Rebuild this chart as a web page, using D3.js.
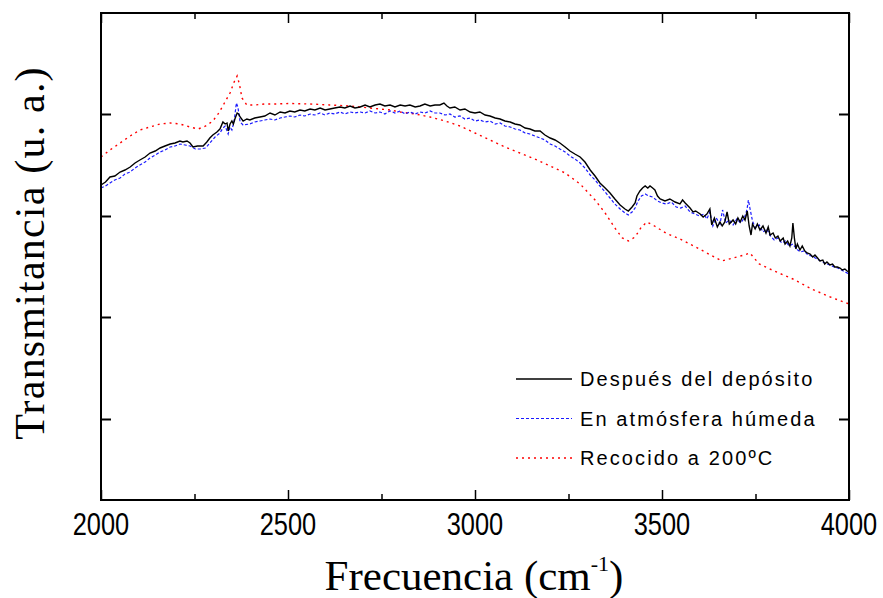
<!DOCTYPE html>
<html>
<head>
<meta charset="utf-8">
<script src="https://cdn.jsdelivr.net/npm/d3@7"></script>
<style>
body { margin: 0; background: #fff; }
svg { display: block; }
</style>
</head>
<body>
<svg width="883" height="598"></svg>
<script>
// Frecuencia (cm-1) / transmitancia (u. a.)
var despuesX = [2000,2012,2024,2037,2051,2064,2078,2091,2104,2118,2131,2145,2158,2171,2185,2198,2211,2219,2230,2238,2246,2258,2273,2283,2291,2299,2310,2318,2326,2332,2337,2340,2345,2350,2354,2358,2364,2368,2372,2380,2390,2398,2411,2425,2438,2452,2465,2479,2492,2505,2518,2532,2545,2559,2572,2586,2599,2612,2625,2639,2652,2666,2679,2693,2706,2719,2733,2746,2759,2773,2786,2800,2813,2826,2840,2853,2866,2880,2893,2906,2917,2925,2933,2946,2960,2973,2987,3000,3013,3027,3040,3054,3067,3080,3094,3107,3120,3134,3147,3160,3174,3187,3201,3214,3227,3241,3254,3267,3281,3294,3308,3321,3334,3348,3361,3374,3388,3401,3410,3420,3428,3433,3441,3448,3455,3462,3468,3475,3481,3488,3495,3508,3521,3535,3548,3555,3562,3575,3583,3590,3602,3610,3620,3628,3633,3640,3648,3655,3661,3668,3674,3680,3690,3697,3703,3709,3716,3722,3728,3733,3738,3742,3749,3755,3762,3770,3778,3784,3789,3797,3803,3810,3816,3824,3829,3836,3842,3847,3850,3854,3858,3862,3869,3875,3882,3888,3896,3903,3909,3916,3922,3930,3935,3941,3949,3956,3962,3969,3976,3982,3989,3995,4000];
var despuesY = [31.5,31.8,32.3,32.4,32.8,33.0,33.3,33.7,34.0,34.3,34.7,34.9,35.2,35.4,35.6,35.7,35.9,35.8,35.9,35.7,35.3,35.4,35.4,35.8,36.2,36.5,36.8,37.1,37.8,37.6,37.7,36.9,37.6,37.9,37.6,38.1,38.7,38.6,38.3,37.9,38.1,38.0,38.2,38.3,38.4,38.7,38.5,38.8,38.7,38.9,38.8,39.0,38.9,39.1,39.0,39.2,39.0,39.1,39.2,39.3,39.2,39.4,39.2,39.3,39.5,39.3,39.5,39.6,39.4,39.5,39.3,39.5,39.4,39.5,39.3,39.4,39.6,39.4,39.5,39.5,39.7,39.4,39.2,39.3,39.0,39.1,38.8,38.7,38.8,38.5,38.4,38.2,38.1,37.9,37.8,37.6,37.5,37.2,37.1,36.9,36.9,36.5,36.2,36.0,35.7,35.3,34.9,34.6,34.3,33.8,33.0,32.4,31.7,31.2,30.7,30.1,29.5,29.1,28.9,29.3,29.7,30.4,30.9,31.2,31.4,31.2,31.4,31.2,31.0,30.4,30.1,29.9,30.1,29.8,29.6,30.0,29.7,29.2,28.8,28.9,28.6,28.3,28.6,29.1,27.5,28.2,27.3,27.8,27.4,27.8,28.8,27.6,28.0,27.6,28.2,27.8,28.4,28.0,28.9,27.4,26.5,27.6,27.1,27.6,27.0,27.4,26.7,27.3,26.5,26.7,26.2,26.4,25.9,26.2,25.6,25.9,25.4,26.2,27.7,26.2,25.1,25.6,25.0,25.4,24.9,24.7,24.6,24.3,24.5,24.2,23.9,24.0,23.6,23.8,23.5,23.6,23.3,23.3,23.2,23.0,23.1,22.9,22.8];

var humedaX = [2000,2012,2024,2037,2051,2064,2078,2091,2104,2118,2131,2145,2158,2171,2185,2198,2211,2225,2238,2252,2265,2280,2291,2305,2318,2326,2332,2340,2345,2350,2356,2362,2366,2372,2380,2398,2411,2425,2438,2452,2465,2479,2492,2505,2518,2532,2545,2559,2572,2586,2599,2612,2625,2639,2652,2666,2679,2693,2706,2719,2733,2746,2759,2773,2786,2800,2813,2826,2840,2853,2866,2880,2893,2906,2920,2933,2946,2960,2973,2987,3000,3013,3027,3040,3054,3067,3080,3094,3107,3120,3134,3147,3160,3174,3187,3201,3214,3227,3241,3254,3267,3281,3294,3308,3321,3334,3348,3361,3374,3388,3401,3410,3420,3428,3436,3445,3455,3465,3475,3488,3500,3512,3525,3538,3550,3562,3575,3588,3600,3612,3620,3628,3636,3645,3655,3662,3670,3680,3690,3700,3710,3720,3727,3731,3735,3742,3750,3760,3770,3780,3790,3800,3810,3820,3830,3840,3850,3860,3870,3880,3890,3900,3910,3920,3930,3940,3950,3960,3970,3980,3990,4000];
var humedaY = [31.2,31.4,31.7,32.0,32.2,32.6,32.8,33.2,33.5,33.8,34.2,34.5,34.8,35.0,35.3,35.4,35.6,35.5,35.4,35.1,35.1,35.2,35.7,36.3,36.7,37.2,37.4,36.6,37.3,37.0,37.9,39.7,39.3,37.8,37.5,37.6,37.8,37.9,38.0,38.1,38.0,38.2,38.3,38.4,38.3,38.5,38.4,38.6,38.5,38.7,38.5,38.7,38.6,38.8,38.6,38.8,38.7,38.8,38.7,38.9,38.7,38.8,38.6,38.9,38.7,38.9,38.6,38.8,38.6,38.8,38.7,38.9,38.7,38.7,38.5,38.6,38.3,38.4,38.1,38.2,37.9,38.0,37.8,37.9,37.6,37.7,37.4,37.3,37.1,37.0,36.7,36.6,36.4,36.2,36.0,35.6,35.4,35.1,34.8,34.4,34.1,33.7,33.2,32.5,32.0,31.4,30.8,30.2,29.6,29.1,28.7,28.5,28.8,29.2,29.9,30.4,30.6,30.4,30.3,29.9,29.7,29.6,29.8,29.3,29.2,29.4,28.8,28.6,28.4,28.6,28.1,28.8,27.4,28.2,27.6,29.0,27.7,28.0,27.5,28.1,27.7,28.2,29.0,30.0,29.2,27.9,27.2,27.5,26.8,27.1,26.4,26.0,26.2,25.7,25.9,25.4,25.6,25.1,24.8,24.9,24.5,24.4,24.2,24.0,23.8,23.6,23.5,23.3,23.2,23.0,22.8,22.6];

var recocidoX = [2000,2024,2051,2078,2104,2131,2158,2185,2211,2238,2260,2280,2299,2315,2330,2345,2356,2364,2370,2377,2390,2411,2438,2465,2505,2559,2612,2666,2719,2773,2800,2840,2880,2920,2960,3000,3040,3080,3120,3160,3201,3241,3281,3321,3348,3374,3394,3410,3428,3445,3460,3480,3510,3548,3590,3630,3660,3690,3720,3735,3760,3800,3850,3900,3950,4000];
var recocidoY = [34.3,35.0,35.7,36.4,37.0,37.3,37.6,37.7,37.6,37.3,37.1,37.4,37.9,38.7,39.7,40.7,41.8,42.4,41.6,40.2,39.5,39.5,39.6,39.6,39.65,39.6,39.5,39.4,39.2,39.0,38.8,38.6,38.3,37.9,37.4,36.7,36.0,35.3,34.7,34.1,33.4,32.7,31.6,30.0,28.7,27.2,26.2,25.9,26.3,27.3,27.8,27.4,26.7,26.1,25.3,24.5,23.9,24.2,24.5,24.7,23.6,22.9,22.1,21.1,20.3,19.6];

var xTicks = [2000, 2500, 3000, 3500, 4000];
var xMinor = [2250, 2750, 3250, 3750];
var yTicks = [8.1, 18.3, 28.4, 38.6];

var svg = d3.select("svg"),
    margin = {top: 13, right: 34, bottom: 98, left: 101},
    width = +svg.attr("width") - margin.left - margin.right,
    height = +svg.attr("height") - margin.top - margin.bottom;

var x = d3.scaleLinear().domain([2000, 4000]).range([0, width]),
    y = d3.scaleLinear().domain([0, 48.7]).range([height, 0]);

var g = svg.append("g").attr("transform", "translate(" + margin.left + "," + margin.top + ")");

var series = [
  {name: "Después del depósito", xs: despuesX, ys: despuesY, color: "#000", dash: null, w: 1.4},
  {name: "En atmósfera húmeda", xs: humedaX, ys: humedaY, color: "#1a1aff", dash: "3,2", w: 1.2},
  {name: "Recocido a 200ºC", xs: recocidoX, ys: recocidoY, color: "#ff0000", dash: "2,4", w: 1.4}
];

var line = d3.line()
  .x(function(d) { return x(d[0]); })
  .y(function(d) { return y(d[1]); });

// red first so black sits on top
[series[2], series[1], series[0]].forEach(function(s) {
  g.append("path")
    .datum(d3.zip(s.xs, s.ys))
    .attr("fill", "none")
    .attr("stroke", s.color)
    .attr("stroke-width", s.w)
    .attr("stroke-dasharray", s.dash)
    .attr("d", line);
});

// frame + ticks
g.append("rect")
  .attr("width", width).attr("height", height)
  .attr("fill", "none").attr("stroke", "#000").attr("stroke-width", 2);

g.append("g").attr("transform", "translate(0," + height + ")")
  .call(d3.axisBottom(x).tickValues(xTicks).tickSizeInner(-10).tickSizeOuter(0).tickFormat(""))
  .call(function(a) { a.select(".domain").remove(); a.selectAll("line").attr("stroke-width", 1.5); });
g.append("g").attr("transform", "translate(0," + height + ")")
  .call(d3.axisBottom(x).tickValues(xMinor).tickSizeInner(-6).tickSizeOuter(0).tickFormat(""))
  .call(function(a) { a.select(".domain").remove(); a.selectAll("line").attr("stroke-width", 1.5); });
g.append("g")
  .call(d3.axisTop(x).tickValues(xTicks).tickSizeInner(-10).tickSizeOuter(0).tickFormat(""))
  .call(function(a) { a.select(".domain").remove(); a.selectAll("line").attr("stroke-width", 1.5); });
g.append("g")
  .call(d3.axisTop(x).tickValues(xMinor).tickSizeInner(-6).tickSizeOuter(0).tickFormat(""))
  .call(function(a) { a.select(".domain").remove(); a.selectAll("line").attr("stroke-width", 1.5); });
g.append("g")
  .call(d3.axisLeft(y).tickValues(yTicks).tickSizeInner(-10).tickSizeOuter(0).tickFormat(""))
  .call(function(a) { a.select(".domain").remove(); a.selectAll("line").attr("stroke-width", 2); });
g.append("g").attr("transform", "translate(" + width + ",0)")
  .call(d3.axisRight(y).tickValues(yTicks).tickSizeInner(-10).tickSizeOuter(0).tickFormat(""))
  .call(function(a) { a.select(".domain").remove(); a.selectAll("line").attr("stroke-width", 2); });

// tick labels, narrow sans
g.selectAll(".xlab")
  .data(xTicks)
  .enter().append("text")
  .attr("class", "xlab")
  .attr("transform", function(d) { return "translate(" + x(d) + "," + (height + 35) + ") scale(0.82,1)"; })
  .attr("text-anchor", "middle")
  .attr("font-family", "Liberation Sans, Arial, sans-serif")
  .attr("font-size", 31)
  .text(function(d) { return d; });

// axis titles
svg.append("text")
  .attr("x", 474)
  .attr("y", 590)
  .attr("text-anchor", "middle")
  .attr("font-family", "Liberation Serif, Times New Roman, serif")
  .attr("font-size", 43)
  .call(function(t) {
    t.append("tspan").text("Frecuencia (cm");
    t.append("tspan").attr("font-size", 22).attr("dy", -19).text("-1");
    t.append("tspan").attr("dy", 19).text(")");
  });

svg.append("text")
  .attr("transform", "translate(44,253) rotate(-90)")
  .attr("text-anchor", "middle")
  .attr("font-family", "Liberation Serif, Times New Roman, serif")
  .attr("font-size", 42)
  .attr("letter-spacing", 1.2)
  .text("Transmitancia (u. a.)");

// legend
var legend = g.append("g").attr("transform", "translate(" + (516 - margin.left) + "," + (379 - margin.top) + ")");
series.forEach(function(s, i) {
  var row = legend.append("g").attr("transform", "translate(0," + (i * 39.5) + ")");
  row.append("line")
    .attr("x1", 0).attr("x2", 56)
    .attr("stroke", s.color)
    .attr("stroke-width", s.w)
    .attr("stroke-dasharray", s.dash);
  row.append("text")
    .attr("x", 64).attr("dy", "0.35em")
    .attr("font-family", "Liberation Sans, Arial, sans-serif")
    .attr("font-size", 20)
    .attr("letter-spacing", 2.1)
    .text(s.name);
});
</script>
</body>
</html>
